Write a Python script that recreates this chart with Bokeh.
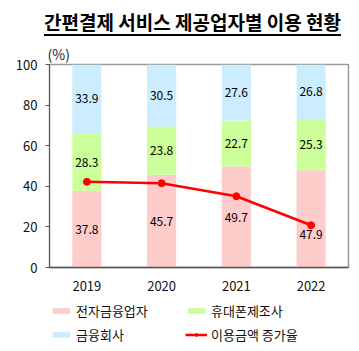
from bokeh.plotting import figure
from bokeh.models import ColumnDataSource, Legend, LegendItem, Div, LabelSet, FactorRange, Title
from bokeh.layouts import column
from bokeh.embed import file_html
from bokeh.resources import INLINE
from bokeh.core.properties import value

years = ["2019", "2020", "2021", "2022"]
efin = [37.8, 45.7, 49.7, 47.9]      # 전자금융업자
phone = [28.3, 23.8, 22.7, 25.3]     # 휴대폰제조사
bank = [33.9, 30.5, 27.6, 26.8]      # 금융회사
growth = [42.2, 41.5, 35.1, 20.8]    # 이용금액 증가율
yticks = [0, 20, 40, 60, 80, 100]

FONT = "Noto Sans CJK KR"
c_efin, c_phone, c_bank, c_line = "#FFCCCC", "#CCFF99", "#CCECFF", "#FF0000"

b1 = [0] * 4
t1 = efin
b2 = t1
t2 = [a + b for a, b in zip(efin, phone)]
b3 = t2
t3 = [a + b for a, b in zip(t2, bank)]

# push a bottom label down when the line marker sits inside its box
off1 = [-16 if abs(g - (a + b) / 2) < 6 else 0 for g, a, b in zip(growth, b1, t1)]

src = ColumnDataSource(dict(
    x=years, b1=b1, t1=t1, b2=b2, t2=t2, b3=b3, t3=t3,
    m1=[(a + b) / 2 for a, b in zip(b1, t1)],
    m2=[(a + b) / 2 for a, b in zip(b2, t2)],
    m3=[(a + b) / 2 for a, b in zip(b3, t3)],
    o1=off1, o0=[0] * 4,
    l1=[f"{v:.1f}" for v in efin], l2=[f"{v:.1f}" for v in phone], l3=[f"{v:.1f}" for v in bank],
    g=growth,
))

header = Div(text="<div style=\"position:relative;width:359px;height:40px;font-family:'Noto Sans CJK KR';\">"
                  "<div style=\"position:absolute;left:44px;top:12px;font-weight:bold;font-size:19px;"
                  "line-height:20px;text-decoration:underline;text-decoration-thickness:2px;"
                  "text-underline-offset:4px;color:#000;white-space:nowrap;\">"
                  "간편결제 서비스 제공업자별 이용 현황</div></div>",
             width=359, height=40, margin=(0, 0, 0, 0))

p = figure(x_range=FactorRange(*years), y_range=(0, 100),
           frame_width=299, frame_height=203, min_border_left=49, min_border_right=11,
           min_border_top=0, min_border_bottom=28,
           output_backend="svg", toolbar_location=None, margin=(0, 0, 0, 0))
p.x_range.range_padding = 0

w = 0.39
r1 = p.vbar(x="x", bottom="b1", top="t1", width=w, color=c_efin, line_color=None, source=src)
r2 = p.vbar(x="x", bottom="b2", top="t2", width=w, color=c_phone, line_color=None, source=src)
r3 = p.vbar(x="x", bottom="b3", top="t3", width=w, color=c_bank, line_color=None, source=src)
rl = p.line(x="x", y="g", line_color=c_line, line_width=2.5, source=src)
rc = p.scatter(x="x", y="g", size=7, color=c_line, source=src)

for m, l, o in (("m1", "l1", "o1"), ("m2", "l2", "o0"), ("m3", "l3", "o0")):
    p.add_layout(LabelSet(x="x", y=m, text=l, source=src, y_offset=o, text_align="center",
                          text_baseline="middle", text_font=value(FONT), text_font_size="12px",
                          text_color="#000"))

p.xgrid.visible = False
p.ygrid.visible = False
p.outline_line_color = "#9a9a9a"
p.outline_line_width = 1.5

p.yaxis.ticker = yticks
p.yaxis.minor_tick_line_color = None
p.yaxis.major_tick_in = 0
p.yaxis.major_tick_out = 4
p.yaxis.axis_line_color = "#555555"
p.yaxis.major_tick_line_color = "#555555"
p.yaxis.major_label_text_font = FONT
p.yaxis.major_label_text_font_size = "13px"
p.yaxis.major_label_text_color = "#111"
p.yaxis.major_label_standoff = 8

p.xaxis.major_tick_line_color = None
p.xaxis.minor_tick_line_color = None
p.xaxis.axis_line_color = "#555555"
p.xaxis.axis_line_width = 1.5
p.xaxis.major_label_text_font = FONT
p.xaxis.major_label_text_font_size = "13px"
p.xaxis.major_label_text_color = "#111"
p.xaxis.major_label_standoff = 7

p.add_layout(Title(text="(%)", align="left", offset=-2, text_font=FONT, text_font_size="14px",
                   text_font_style="normal", text_color="#222", standoff=2), "above")

# legend strip (its frame is aligned with the main plot's frame by the column)
lg = figure(width=359, height=55, x_range=(0, 1), y_range=(0, 1), min_border=0,
            x_axis_location=None, y_axis_location=None, output_backend="svg",
            toolbar_location=None, margin=(0, 0, 0, 0))
lg.outline_line_color = None
lg.xgrid.visible = False
lg.ygrid.visible = False
# hidden handles (outside the strip's visible range) that only feed the legend swatches
hx, hy = [-9], [-9]
q1 = lg.vbar(x=hx, top=hy, width=1, color=c_efin, line_color=None)
q2 = lg.vbar(x=hx, top=hy, width=1, color=c_phone, line_color=None)
q3 = lg.vbar(x=hx, top=hy, width=1, color=c_bank, line_color=None)
ql = lg.line(x=hx, y=hy, line_color=c_line, line_width=2.5)
qc = lg.scatter(x=hx, y=hy, size=7, color=c_line)

common = dict(orientation="vertical", border_line_color=None, background_fill_alpha=0,
              label_text_font=FONT, label_text_font_size="13px", label_text_color="#111",
              glyph_width=22, glyph_height=7, spacing=4, padding=0, margin=0, label_standoff=4,
              label_height=20)
leg1 = Legend(items=[LegendItem(label="전자금융업자", renderers=[q1]),
                     LegendItem(label="금융회사", renderers=[q3])], location=(1, 6), **common)
leg2 = Legend(items=[LegendItem(label="휴대폰제조사", renderers=[q2]),
                     LegendItem(label="이용금액 증가율", renderers=[ql, qc])], location=(136, 6), **common)
lg.add_layout(leg1, "center")
lg.add_layout(leg2, "center")

layout = column(header, p, lg, spacing=0)
open("out.html", "w").write(file_html(layout, INLINE))
